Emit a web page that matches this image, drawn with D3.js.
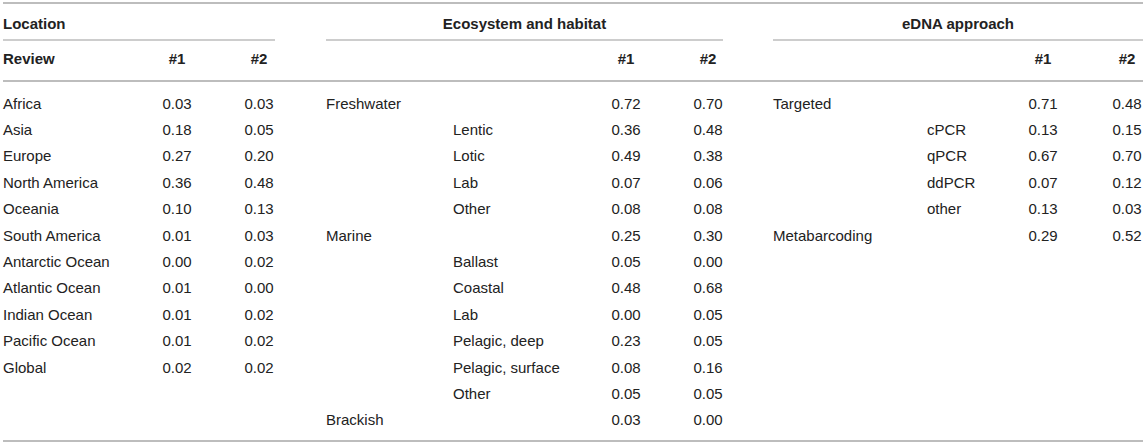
<!DOCTYPE html>
<html>
<head>
<meta charset="utf-8">
<script src="https://cdn.jsdelivr.net/npm/d3@7"></script>
<style>
  body { margin: 0; background: #fff; }
</style>
</head>
<body>
<div id="chart"></div>
<script>
// data
const locationLabels = ["Africa", "Asia", "Europe", "North America", "Oceania", "South America",
  "Antarctic Ocean", "Atlantic Ocean", "Indian Ocean", "Pacific Ocean", "Global"];
const locationR1 = ["0.03", "0.18", "0.27", "0.36", "0.10", "0.01", "0.00", "0.01", "0.01", "0.01", "0.02"];
const locationR2 = ["0.03", "0.05", "0.20", "0.48", "0.13", "0.03", "0.02", "0.00", "0.02", "0.02", "0.02"];

const habitatLabels = ["Freshwater", "Lentic", "Lotic", "Lab", "Other", "Marine", "Ballast", "Coastal",
  "Lab", "Pelagic, deep", "Pelagic, surface", "Other", "Brackish"];
const habitatLevel = [0, 1, 1, 1, 1, 0, 1, 1, 1, 1, 1, 1, 0];
const habitatR1 = ["0.72", "0.36", "0.49", "0.07", "0.08", "0.25", "0.05", "0.48", "0.00", "0.23", "0.08", "0.05", "0.03"];
const habitatR2 = ["0.70", "0.48", "0.38", "0.06", "0.08", "0.30", "0.00", "0.68", "0.05", "0.05", "0.16", "0.05", "0.00"];

const approachLabels = ["Targeted", "cPCR", "qPCR", "ddPCR", "other", "Metabarcoding"];
const approachLevel = [0, 1, 1, 1, 1, 0];
const approachR1 = ["0.71", "0.13", "0.67", "0.07", "0.13", "0.29"];
const approachR2 = ["0.48", "0.15", "0.70", "0.12", "0.03", "0.52"];

const width = 1143;
const height = 444;
const font = "'Liberation Sans', Arial, Helvetica, sans-serif";
const textColor = "#222";
const lineColor = "#bdbdbd";

const svg = d3.select("#chart")
  .append("svg")
  .attr("width", width)
  .attr("height", height)
  .attr("viewBox", [0, 0, width, height]);

// row position scale (row index -> vertical centre)
const yRow = d3.scaleLinear().domain([0, 12]).range([103, 419.8]);

// column blocks
const blocks = [
  { title: "Location", titleAlign: "start", span: [3, 275], labelX: [3, 3], c1: 177, c2: 259,
    labels: locationLabels, level: locationLabels.map(() => 0), r1: locationR1, r2: locationR2, sub: "Review" },
  { title: "Ecosystem and habitat", titleAlign: "middle", span: [326, 723], labelX: [326, 453], c1: 626, c2: 708,
    labels: habitatLabels, level: habitatLevel, r1: habitatR1, r2: habitatR2, sub: "" },
  { title: "eDNA approach", titleAlign: "middle", span: [773, 1143], labelX: [773, 927], c1: 1043, c2: 1127,
    labels: approachLabels, level: approachLevel, r1: approachR1, r2: approachR2, sub: "" }
];

// horizontal rules
svg.append("line").attr("x1", 3).attr("x2", width).attr("y1", 3).attr("y2", 3)
  .attr("stroke", lineColor).attr("stroke-width", 2);
svg.append("line").attr("x1", 3).attr("x2", width).attr("y1", 81).attr("y2", 81)
  .attr("stroke", lineColor).attr("stroke-width", 2);
svg.append("line").attr("x1", 3).attr("x2", width).attr("y1", 441).attr("y2", 441)
  .attr("stroke", lineColor).attr("stroke-width", 2);

blocks.forEach((b) => {
  const g = svg.append("g")
    .attr("font-family", font)
    .attr("font-size", 15)
    .attr("fill", textColor);

  // group header
  g.append("text")
    .attr("x", b.titleAlign === "start" ? b.span[0] : (b.span[0] + b.span[1]) / 2)
    .attr("y", 23)
    .attr("dominant-baseline", "central")
    .attr("text-anchor", b.titleAlign)
    .attr("font-weight", "bold")
    .text(b.title);

  g.append("line")
    .attr("x1", b.span[0]).attr("x2", b.span[1])
    .attr("y1", 40).attr("y2", 40)
    .attr("stroke", lineColor).attr("stroke-width", 1.3);

  // sub header
  if (b.sub) {
    g.append("text")
      .attr("x", b.labelX[0]).attr("y", 58)
      .attr("dominant-baseline", "central")
      .attr("font-weight", "bold")
      .text(b.sub);
  }
  [["#1", b.c1], ["#2", b.c2]].forEach(([t, cx]) => {
    g.append("text")
      .attr("x", cx).attr("y", 58)
      .attr("dominant-baseline", "central")
      .attr("text-anchor", "middle")
      .attr("font-weight", "bold")
      .text(t);
  });

  // body rows
  const I = d3.range(b.labels.length);
  g.append("g").selectAll("text")
    .data(I)
    .join("text")
    .attr("x", (i) => b.labelX[b.level[i]])
    .attr("y", (i) => yRow(i))
    .attr("dominant-baseline", "central")
    .text((i) => b.labels[i]);

  g.append("g").selectAll("text")
    .data(I)
    .join("text")
    .attr("x", b.c1)
    .attr("y", (i) => yRow(i))
    .attr("dominant-baseline", "central")
    .attr("text-anchor", "middle")
    .text((i) => b.r1[i]);

  g.append("g").selectAll("text")
    .data(I)
    .join("text")
    .attr("x", b.c2)
    .attr("y", (i) => yRow(i))
    .attr("dominant-baseline", "central")
    .attr("text-anchor", "middle")
    .text((i) => b.r2[i]);
});
</script>
</body>
</html>
